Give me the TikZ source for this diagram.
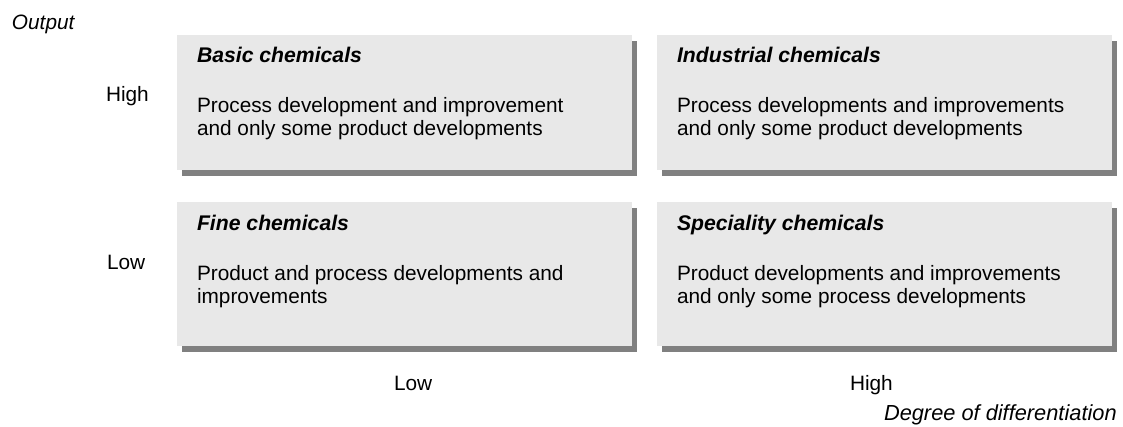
\documentclass[tikz,border=0pt]{standalone}
\usepackage{fontspec}
\setmainfont{Liberation Sans}
\usetikzlibrary{shadows}
\definecolor{boxfill}{HTML}{E8E8E8}
\definecolor{boxshadow}{HTML}{808080}
\begin{document}
\begin{tikzpicture}[x=1pt,y=-1pt,
  every node/.style={inner sep=0pt, outer sep=0pt},
  txt/.style={font=\fontsize{20.8}{23}\selectfont, anchor=base west, align=left},
  ttl/.style={txt, font=\fontsize{21.2}{23}\selectfont\bfseries\itshape},
  lbl/.style={txt},
  ital/.style={txt, font=\fontsize{20.8}{23}\selectfont\itshape},
  cell/.style={anchor=north west, fill=boxfill, minimum width=455pt,
    drop shadow={shadow xshift=5pt, shadow yshift=-6pt, fill=boxshadow, opacity=1}},
  toprow/.style={cell, minimum height=135pt},
  botrow/.style={cell, minimum height=144pt}]
\useasboundingbox (0,0) rectangle (1123,427);

% quadrant boxes
\node[toprow] (basic) at (177,35) {};
\node[toprow] (indus) at (657,35) {};
\node[botrow] (fine)  at (177,202) {};
\node[botrow] (spec)  at (657,202) {};

% box titles
\node[ttl] (basicT) at (197,63)  {Basic chemicals};
\node[ttl] (indusT) at (677,63)  {Industrial chemicals};
\node[ttl] (fineT)  at (197,231) {Fine chemicals};
\node[ttl] (specT)  at (677,231) {Speciality chemicals};

% box descriptions
\node[txt] (basicD1) at (197,113) {Process development and improvement};
\node[txt] (basicD2) at (197,136) {and only some product developments};
\node[txt] (indusD1) at (677,113) {Process developments and improvements};
\node[txt] (indusD2) at (677,136) {and only some product developments};
\node[txt] (fineD1)  at (197,280) {Product and process developments and};
\node[txt] (fineD2)  at (197,303) {improvements};
\node[txt] (specD1)  at (677,280) {Product developments and improvements};
\node[txt] (specD2)  at (677,303) {and only some process developments};

% axis labels
\node[ital] (yaxis) at (12,30) {Output};
\node[lbl] (yhigh) at (106,102) {High};
\node[lbl] (ylow)  at (107,270) {Low};
\node[lbl] (xlow)  at (394,390) {Low};
\node[lbl] (xhigh) at (850,390) {High};
\node[ital, font=\fontsize{21.8}{23}\selectfont\itshape] (xaxis) at (884,420) {Degree of differentiation};
\end{tikzpicture}
\end{document}
